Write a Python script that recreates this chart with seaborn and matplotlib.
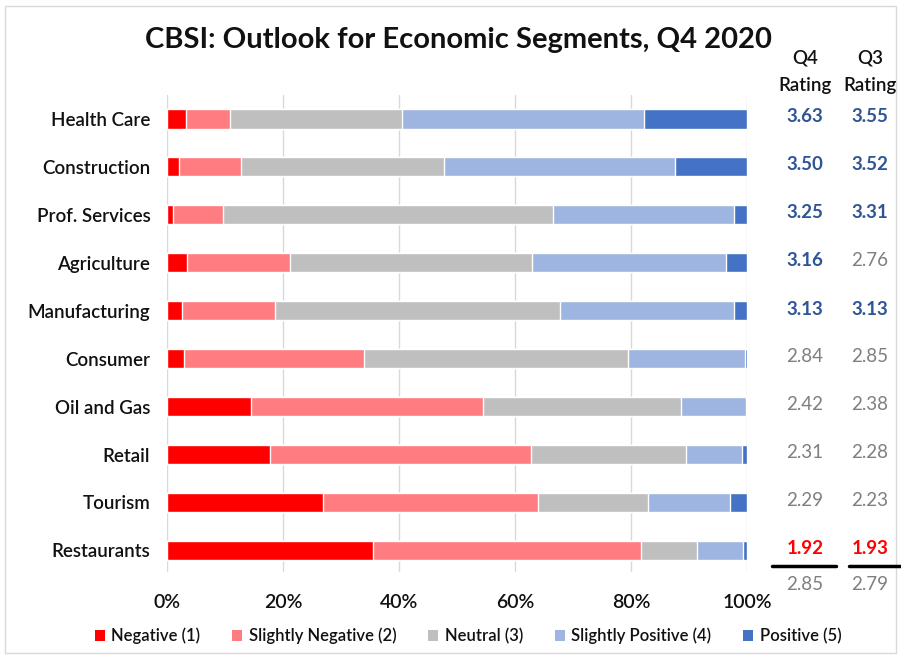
import numpy as np
import pandas as pd
import matplotlib
matplotlib.use("Agg")
import matplotlib.pyplot as plt
import seaborn as sns
from matplotlib.patches import Patch, Rectangle
from matplotlib.lines import Line2D

sns.set_theme(style="white")
plt.rcParams['font.family'] = ['Lato', 'DejaVu Sans']

segments = ["Health Care", "Construction", "Prof. Services", "Agriculture", "Manufacturing",
            "Consumer", "Oil and Gas", "Retail", "Tourism", "Restaurants"]
levels = ["Negative (1)", "Slightly Negative (2)", "Neutral (3)", "Slightly Positive (4)", "Positive (5)"]
negative = [3.2, 2.0, 1.0, 3.4, 2.6, 3.0, 14.4, 17.8, 26.9, 35.6]
slightly_negative = [7.7, 10.7, 8.6, 17.8, 16.0, 30.9, 40.1, 44.9, 37.0, 46.2]
neutral = [29.6, 35.0, 57.0, 41.8, 49.2, 45.6, 34.1, 26.7, 19.1, 9.6]
slightly_positive = [41.8, 39.8, 31.2, 33.4, 30.0, 20.1, 11.3, 9.8, 14.1, 7.9]
positive = [17.7, 12.5, 2.2, 3.6, 2.2, 0.4, 0.1, 0.8, 2.9, 0.7]
q4_rating = ["3.63", "3.50", "3.25", "3.16", "3.13", "2.84", "2.42", "2.31", "2.29", "1.92"]
q3_rating = ["3.55", "3.52", "3.31", "2.76", "3.13", "2.85", "2.38", "2.28", "2.23", "1.93"]
q4_avg = "2.85"
q3_avg = "2.79"
x_ticks = [0, 20, 40, 60, 80, 100]
x_tick_labels = ["0%", "20%", "40%", "60%", "80%", "100%"]

colors = ["#FF0000", "#FF7C80", "#BFBFBF", "#9DB5E0", "#4472C4"]
BLUE_TXT = "#2F5597"
GRAY_TXT = "#7F7F7F"
RED_TXT = "#FF0000"

series = [negative, slightly_negative, neutral, slightly_positive, positive]
cum = np.cumsum(np.array(series), axis=0)
cum = cum / cum[-1] * 100.0

W, H = 901, 658
fig = plt.figure(figsize=(W / 100, H / 100), dpi=100)
fig.patch.set_facecolor("white")

def fx(px):
    return px / W

def fy(py):
    return 1 - py / H

ax = fig.add_axes([fx(167), fy(572), fx(747) - fx(167), fy(95) - fy(572)])

# stacked bars: draw cumulative from largest to smallest
for i in range(len(levels) - 1, -1, -1):
    df = pd.DataFrame({"segment": segments, "value": cum[i]})
    sns.barplot(data=df, y="segment", x="value", order=segments, orient="h",
                color=colors[i], saturation=1, width=0.4, ax=ax, zorder=3)

ax.set_xlim(0, 100)
ax.set_ylim(9.45, -0.5)
ax.set_xticks(x_ticks)
ax.set_xticklabels(x_tick_labels)
ax.set_xlabel("")
ax.set_ylabel("")
ax.grid(axis="x", color="#D9D9D9", linewidth=1, zorder=0)
ax.grid(axis="y", visible=False)
for s in ax.spines.values():
    s.set_visible(False)
ax.tick_params(axis="x", length=0, pad=16, labelsize=14, labelcolor="#111111")
ax.tick_params(axis="y", length=0, pad=12, labelsize=13.5, labelcolor="#111111")
for lbl in ax.get_xticklabels():
    lbl.set_fontweight("semibold")
for lbl in ax.get_yticklabels():
    lbl.set_fontweight("semibold")

# title
fig.text(fx(458), fy(40), "CBSI: Outlook for Economic Segments, Q4 2020",
         ha="center", va="center", fontsize=21, fontweight="bold", color="#111111")

# rating headers
for xc, q in [(805, "Q4"), (870, "Q3")]:
    fig.text(fx(xc), fy(58), q, ha="center", va="center", fontsize=13.5,
             fontweight="semibold", color="#111111")
    fig.text(fx(xc), fy(85), "Rating", ha="center", va="center", fontsize=13.5,
             fontweight="semibold", color="#111111")

def style_for(v):
    f = float(v)
    if f >= 3.0:
        return BLUE_TXT, "bold"
    if f < 2.0:
        return RED_TXT, "bold"
    return GRAY_TXT, "normal"

row_y = [119 + 48 * i for i in range(len(segments))]
for yy, a, b in zip(row_y, q4_rating, q3_rating):
    c, w = style_for(a)
    fig.text(fx(805), fy(yy - 2), a, ha="center", va="center", fontsize=13.5, color=c, fontweight=w)
    c, w = style_for(b)
    fig.text(fx(870), fy(yy - 2), b, ha="center", va="center", fontsize=13.5, color=c, fontweight=w)

fig.add_artist(Line2D([fx(772), fx(836)], [fy(566), fy(566)], color="black", linewidth=2.5))
fig.add_artist(Line2D([fx(849), fx(901)], [fy(566), fy(566)], color="black", linewidth=2.5))
fig.text(fx(805), fy(584), q4_avg, ha="center", va="center", fontsize=13.5, color=GRAY_TXT)
fig.text(fx(870), fy(584), q3_avg, ha="center", va="center", fontsize=13.5, color=GRAY_TXT)

# legend
handles = [Patch(facecolor=c, edgecolor="none", label=l) for c, l in zip(colors, levels)]
leg = fig.legend(handles=handles, loc="center", bbox_to_anchor=(fx(468), fy(636)), ncol=5,
                 frameon=False, fontsize=12, handlelength=0.6, handleheight=0.6,
                 handletextpad=0.4, columnspacing=1.9)
for t in leg.get_texts():
    t.set_fontweight("semibold")
    t.set_color("#111111")

# outer border
fig.add_artist(Rectangle((fx(5), fy(653)), fx(896) - fx(5), fy(6) - fy(653),
                         fill=False, edgecolor="#D9D9D9", linewidth=1))

fig.savefig("out.png", dpi=100, facecolor="white")
